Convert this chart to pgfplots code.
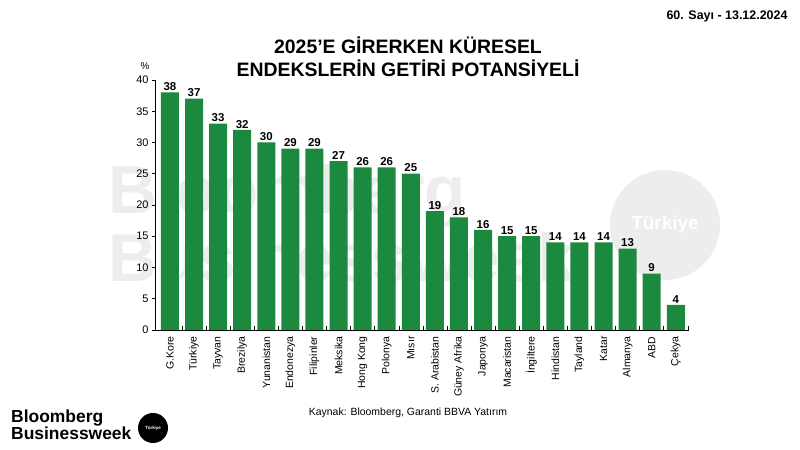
\documentclass[border=0pt]{standalone}
\usepackage{pgfplots}
\pgfplotsset{compat=1.18}
\usepackage{fontspec}
\setmainfont{Liberation Sans}
\definecolor{bargreen}{HTML}{1B8A3E}
\definecolor{wm}{HTML}{EDEDED}
\begin{document}
\begin{tikzpicture}[x=1bp,y=1bp]
\path (0,0) rectangle (800,450);
% watermark
\node[anchor=west,font=\fontsize{68}{68}\selectfont\bfseries,text=wm,inner sep=0] at (108,254) {Bloomberg};
\node[anchor=west,font=\fontsize{68}{68}\selectfont\bfseries,text=wm,inner sep=0] at (108,193) {Businessweek};
\fill[wm] (665,225) circle (55);
\node[font=\fontsize{19}{19}\selectfont\bfseries,text=white] at (665,225) {Türkiye};
% header
\node[anchor=east,font=\fontsize{12.5}{12.5}\selectfont\bfseries] at (791,434) {60. Sayı - 13.12.2024};
\node[font=\fontsize{19.5}{19.5}\selectfont\bfseries] at (408,405) {2025\char"27 E GİRERKEN KÜRESEL};
\node[font=\fontsize{19.5}{19.5}\selectfont\bfseries] at (408,382) {ENDEKSLERİN GETİRİ POTANSİYELİ};
\node[font=\fontsize{10}{10}\selectfont] at (145,384) {\%};
% source
\node[font=\fontsize{10.5}{10.5}\selectfont] at (408,37) {Kaynak: Bloomberg, Garanti BBVA Yatırım};
% logo
\node[anchor=west,font=\fontsize{17.5}{15}\selectfont\bfseries,align=left,inner sep=0] at (11,25) {Bloomberg\\Businessweek};
\fill[black] (153,22) circle (15);
\node[font=\fontsize{4.5}{4.5}\selectfont\bfseries,text=white] at (153,22) {Türkiye};
\begin{axis}[
  at={(155bp,120bp)}, anchor=south west,
  width=534bp, height=250bp, scale only axis,
  xmin=-0.62, xmax=21.55, ymin=0, ymax=40,
  ytick={0,5,...,40},
  axis x line*=bottom, axis y line*=left,
  axis line style={black, line width=0.6pt},
  xtick={0,...,21},
  minor xtick={0.5,1.5,...,21.5},
  xticklabels={G.Kore,Türkiye,Tayvan,Brezilya,Yunanistan,Endonezya,Filipinler,Meksika,Hong Kong,Polonya,Mısır,S. Arabistan,Güney Afrika,Japonya,Macaristan,İngiltere,Hindistan,Tayland,Katar,Almanya,ABD,Çekya},
  x tick label style={rotate=90, anchor=east, font=\fontsize{10.5}{10.5}\selectfont},
  y tick label style={font=\fontsize{11}{11}\selectfont},
  /pgf/number format/assume math mode=true,
  tick style={black, line width=0.5pt},
  major tick length=3bp,
  minor tick length=-3.5bp,
  tick align=outside,
  every major x tick/.append style={draw=none},
  every minor x tick/.append style={draw=black, line width=0.5pt},
  ybar, bar width=18bp,
  nodes near coords,
  every node near coord/.append style={font=\fontsize{11.5}{11.5}\selectfont\bfseries, inner sep=1.5pt},
  clip=false,
]
\addplot[fill=bargreen, draw=none] coordinates {
(0,38) (1,37) (2,33) (3,32) (4,30) (5,29) (6,29) (7,27) (8,26) (9,26) (10,25)
(11,19) (12,18) (13,16) (14,15) (15,15) (16,14) (17,14) (18,14) (19,13) (20,9) (21,4)};
\end{axis}
\end{tikzpicture}
\end{document}
